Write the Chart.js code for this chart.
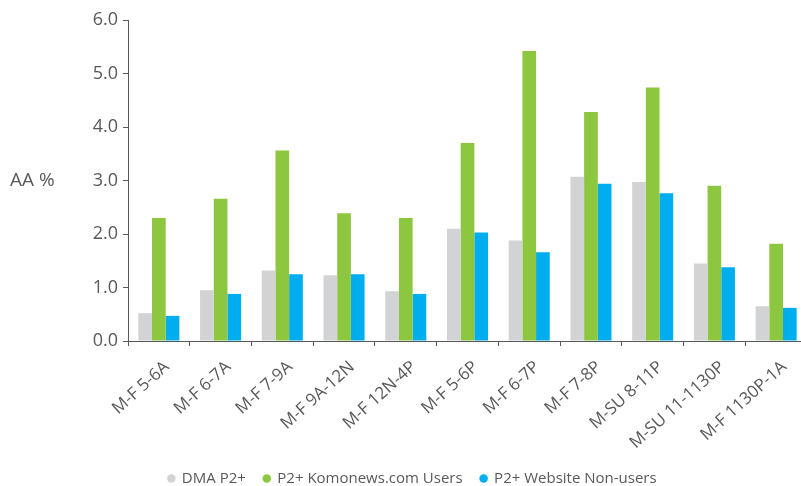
<!DOCTYPE html>
<html>
<head>
<meta charset="utf-8">
<script src="https://cdn.jsdelivr.net/npm/chart.js@4/dist/chart.umd.min.js"></script>
<style>
html,body{margin:0;padding:0;background:#fff;overflow:hidden;width:801px;height:486px;}
#wrap{width:826px;height:496px;}
</style>
</head>
<body>
<div id="wrap"><canvas id="c" width="826" height="496"></canvas></div>
<script>
const categories = ["M-F 5-6A","M-F 6-7A","M-F 7-9A","M-F 9A-12N","M-F 12N-4P","M-F 5-6P","M-F 6-7P","M-F 7-8P","M-SU 8-11P","M-SU 11-1130P","M-F 1130P-1A"];
const seriesNames = ["DMA P2+","P2+ Komonews.com Users","P2+ Website Non-users"];
const dmaP2 = [0.52,0.95,1.32,1.23,0.93,2.10,1.88,3.07,2.97,1.45,0.65];
const komoUsers = [2.30,2.66,3.56,2.39,2.30,3.70,5.42,4.28,4.74,2.90,1.82];
const nonUsers = [0.47,0.88,1.25,1.25,0.88,2.03,1.66,2.94,2.76,1.38,0.62];
const yTicks = [0,1,2,3,4,5,6];
const yTitle = "AA %";

const TEXT = "#58595b";
const FONT = "'Open Sans', 'Noto Sans', sans-serif";

const titlePlugin = {
  id: "yTitle",
  afterDraw(chart) {
    const ctx = chart.ctx;
    ctx.save();
    ctx.fillStyle = TEXT;
    ctx.font = "19px " + FONT;
    ctx.textAlign = "left";
    ctx.textBaseline = "middle";
    ctx.fillText(yTitle, 10, 181);
    ctx.restore();
  }
};

new Chart(document.getElementById("c"), {
  type: "bar",
  data: {
    labels: categories,
    datasets: [
      {label: seriesNames[0], data: dmaP2, backgroundColor: "#d1d3d4"},
      {label: seriesNames[1], data: komoUsers, backgroundColor: "#8dc63f"},
      {label: seriesNames[2], data: nonUsers, backgroundColor: "#00aeef"}
    ]
  },
  options: {
    responsive: false,
    animation: false,
    devicePixelRatio: 1,
    datasets: {bar: {categoryPercentage: 0.665, barPercentage: 1.0, borderWidth: 0}},
    layout: {padding: {top: 20, right: 19, left: 18, bottom: 0}},
    plugins: {
      tooltip: {enabled: false},
      legend: {
        position: "bottom",
        labels: {
          usePointStyle: true,
          pointStyle: "circle",
          boxWidth: 6,
          boxHeight: 6,
          padding: 18,
          color: TEXT,
          font: {family: FONT, size: 15}
        }
      }
    },
    scales: {
      x: {
        grid: {display: true, drawOnChartArea: false, drawTicks: true, tickLength: 5, color: TEXT, offset: true},
        border: {display: true, color: TEXT, width: 1},
        ticks: {color: TEXT, font: {family: FONT, size: 17}, minRotation: 42, maxRotation: 42, autoSkip: false, padding: 11, labelOffset: 8},
        afterFit(scale) { scale.height = 112; }
      },
      y: {
        min: 0, max: 6,
        afterBuildTicks(scale) { scale.ticks = yTicks.map(v => ({value: v})); },
        grid: {display: true, drawOnChartArea: false, drawTicks: true, tickLength: 5, color: TEXT},
        border: {display: true, color: TEXT, width: 1},
        ticks: {color: TEXT, font: {family: FONT, size: 18}, padding: 5, callback: v => Number(v).toFixed(1)},
        afterFit(scale) { scale.width = 110; }
      }
    }
  },
  plugins: [titlePlugin]
});
</script>
</body>
</html>
